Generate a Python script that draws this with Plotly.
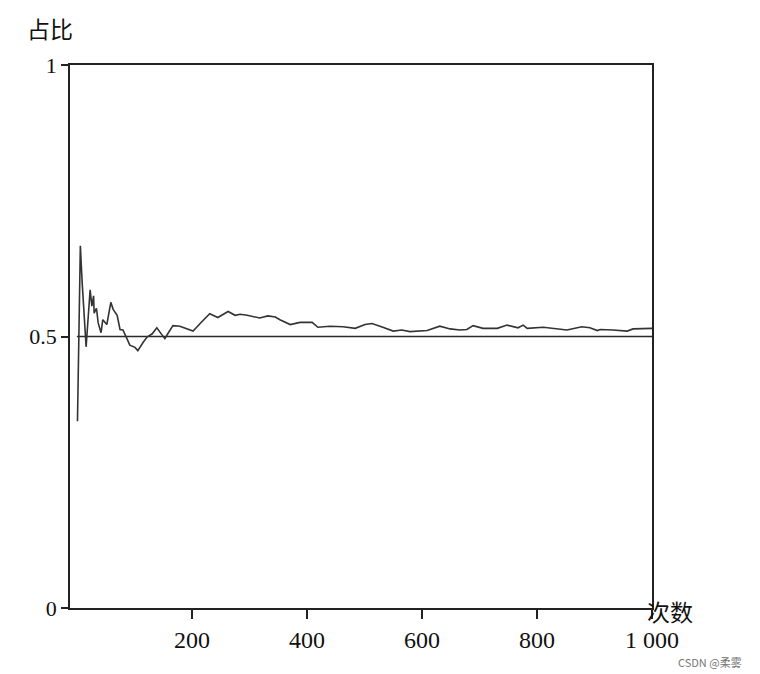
import plotly.graph_objects as go

# number of tosses and running proportion of heads
tosses = [1, 6, 9, 12, 16, 23, 26, 29, 30, 34, 37, 42, 45, 52, 59, 63, 70, 75, 80, 87,
          92, 101, 106, 115, 122, 131, 139, 148, 153, 158, 167, 179, 191, 202, 218, 231,
          245, 263, 275, 284, 296, 318, 332, 345, 353, 371, 388, 409, 419, 440, 463, 484,
          501, 513, 532, 550, 565, 579, 609, 631, 649, 666, 678, 689, 706, 731, 748, 767,
          776, 783, 811, 840, 852, 878, 892, 905, 910, 932, 957, 967, 1000]
proportion = [0.344, 0.667, 0.602, 0.546, 0.481, 0.586, 0.556, 0.575, 0.543, 0.552, 0.525,
              0.507, 0.531, 0.522, 0.563, 0.550, 0.539, 0.513, 0.512, 0.496, 0.484, 0.480,
              0.474, 0.489, 0.499, 0.505, 0.516, 0.503, 0.496, 0.505, 0.520, 0.519, 0.515,
              0.510, 0.528, 0.542, 0.535, 0.546, 0.539, 0.541, 0.539, 0.534, 0.538, 0.536,
              0.531, 0.522, 0.526, 0.526, 0.517, 0.519, 0.518, 0.515, 0.522, 0.524, 0.517,
              0.510, 0.512, 0.509, 0.511, 0.519, 0.514, 0.512, 0.513, 0.520, 0.515, 0.515,
              0.521, 0.516, 0.521, 0.515, 0.517, 0.514, 0.512, 0.518, 0.516, 0.511, 0.513,
              0.512, 0.510, 0.514, 0.515]

ref_x = [0, 1000]
ref_y = [0.5, 0.5]

x_ticks = [200, 400, 600, 800, 1000]
x_tick_labels = ["200", "400", "600", "800", "1 000"]
y_ticks = [0, 0.5, 1]
y_tick_labels = ["0", "0.5", "1"]

fig = go.Figure()
fig.add_trace(go.Scatter(x=ref_x, y=ref_y, mode="lines",
                         line=dict(color="#2a2a2a", width=1.6), showlegend=False))
fig.add_trace(go.Scatter(x=tosses, y=proportion, mode="lines",
                         line=dict(color="#333333", width=1.6), showlegend=False))

serif = "Liberation Serif, Times New Roman, serif"
cjk = "Noto Sans CJK SC"

fig.update_layout(
    width=760, height=674,
    margin=dict(l=62, r=116, t=57, b=74),
    paper_bgcolor="white", plot_bgcolor="white",
    font=dict(family=serif, size=21, color="#111"),
    xaxis=dict(range=[-12, 1000], tickvals=x_ticks, ticktext=x_tick_labels,
               ticks="outside", ticklen=9, tickwidth=1.5, tickcolor="#222",
               showline=True, linecolor="#222", linewidth=1.6, mirror=True,
               showgrid=False, zeroline=False,
               tickfont=dict(family=serif, size=24, color="#111")),
    yaxis=dict(range=[0, 1], tickvals=y_ticks, ticktext=y_tick_labels,
               ticks="outside", ticklen=7, tickwidth=1.5, tickcolor="#222",
               showline=True, linecolor="#222", linewidth=1.6, mirror=True,
               showgrid=False, zeroline=False,
               tickfont=dict(family=serif, size=22, color="#111")),
)
fig.add_annotation(text="占比", x=0, y=1, xref="paper", yref="paper",
                   xanchor="left", yanchor="bottom", xshift=-45, yshift=18,
                   showarrow=False, font=dict(family=cjk, size=23, color="#111"))
fig.add_annotation(text="次数", x=1.0, y=0.0, xref="paper", yref="paper",
                   xanchor="left", yanchor="middle", xshift=-7, yshift=-3,
                   showarrow=False, font=dict(family=cjk, size=23, color="#111"))
fig.add_annotation(text="CSDN @柔雾", xref="paper", yref="paper", x=1.0, y=0,
                   xanchor="left", yanchor="top", xshift=24, yshift=-44,
                   showarrow=False, font=dict(family=cjk, size=11, color="#777"))

fig.write_html("out.html")
